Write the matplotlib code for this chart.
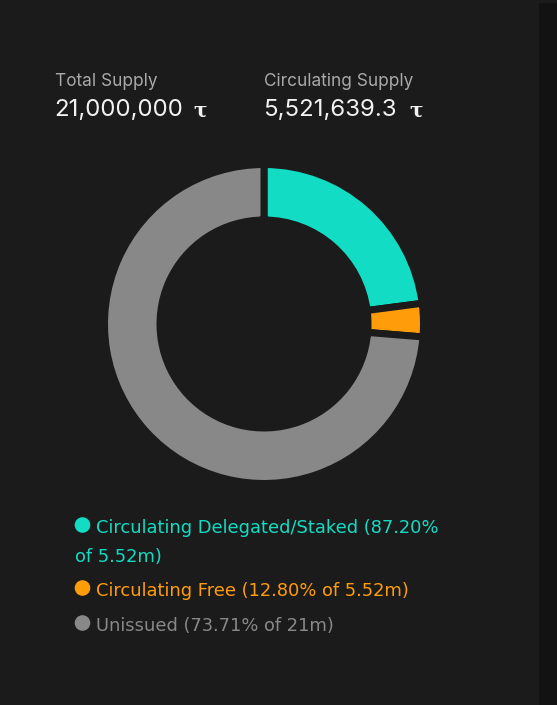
import numpy as np
import matplotlib.pyplot as plt
from matplotlib.patches import Rectangle, Circle

W, H = 557, 705

total_supply = 21_000_000
circulating = 5_521_639.3
delegated_pct = 87.20
free_pct = 12.80

labels = ['Circulating Delegated/Staked', 'Circulating Free', 'Unissued']
colors = ['#12dcc4', '#ff9c0a', '#888888']
values = [circulating * delegated_pct / 100,
          circulating * free_pct / 100,
          total_supply - circulating]
unissued_pct = 100 * values[2] / total_supply

bg = '#1b1b1b'


def fx(x):
    return x / W


def fy(y):
    return 1 - y / H


fig = plt.figure(figsize=(W / 100, H / 100), dpi=100, facecolor=bg)

# dark strip at the right edge
fig.patches.append(Rectangle((fx(539), 0), fx(W) - fx(539), fy(3), transform=fig.transFigure,
                             facecolor='#121212', edgecolor='none'))

# donut
cx, cy, half = 264, 324, 180
ax = fig.add_axes([fx(cx - half), fy(cy + half), 2 * half / W, 2 * half / H])
gap = 7
r_out, r_in = 156, 107.5
ax.pie(values, colors=colors, startangle=90, counterclock=False,
       radius=r_out + gap / 2, wedgeprops=dict(width=r_out - r_in + gap, edgecolor=bg,
                                                linewidth=gap * 0.72))
ax.set_xlim(-half, half)
ax.set_ylim(-half, half)
ax.set_aspect('equal')
ax.axis('off')

# header
font = 'Inter'
fig.text(fx(55), fy(86), 'Total Supply', color='#a9a9a9', fontsize=12.4, family=font)
fig.text(fx(264), fy(86), 'Circulating Supply', color='#a9a9a9', fontsize=12.4, family=font)
fig.text(fx(54), fy(116), f'{total_supply:,.0f}', color='#f2f2f2', fontsize=17.3, family=font)
fig.text(fx(263), fy(116), f'{circulating:,.1f}', color='#f2f2f2', fontsize=17.3, family=font)
fig.text(fx(193), fy(116), 'τ', color='#f2f2f2', fontsize=14.5, family='DejaVu Serif', weight='bold')
fig.text(fx(409), fy(116), 'τ', color='#f2f2f2', fontsize=14.5, family='DejaVu Serif', weight='bold')

# legend
legend_lines = [
    (f'{labels[0]} ({delegated_pct:.2f}%', 533, True, 0),
    (f'of {circulating / 1e6:.2f}m)', 562, False, 0),
    (f'{labels[1]} ({free_pct:.2f}% of {circulating / 1e6:.2f}m)', 596, True, 1),
    (f'{labels[2]} ({unissued_pct:.2f}% of {total_supply / 1e6:.0f}m)', 631, True, 2),
]
for txt, y, dot, ci in legend_lines:
    x = 96 if dot else 75
    fig.text(fx(x), fy(y), txt, color=colors[ci], fontsize=12.9, family='DejaVu Sans')
    if dot:
        fig.patches.append(Circle((82.5, H - (y - 8)), 7.8, transform=None,
                                  facecolor=colors[ci], edgecolor='none'))

fig.savefig('out.png', dpi=100, facecolor=bg)
